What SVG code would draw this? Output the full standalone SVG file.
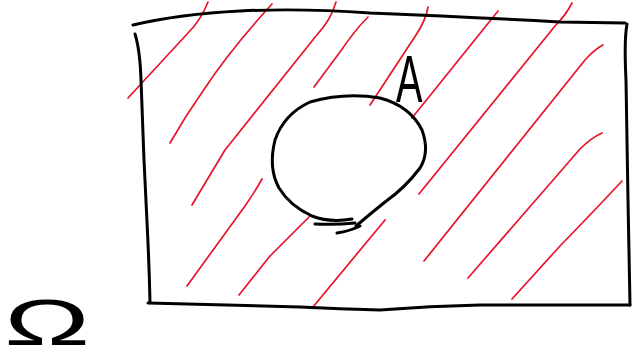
<svg xmlns="http://www.w3.org/2000/svg" width="639" height="360" viewBox="0 0 639 360">
<style>
.ink{fill:none;stroke:#000;stroke-width:3;stroke-linecap:round;stroke-linejoin:round}
.hatch{fill:none;stroke:#e8142a;stroke-width:1.7;stroke-linecap:round;stroke-linejoin:round}
.lbl{font-family:"Liberation Sans","DejaVu Sans",sans-serif;fill:#000}
</style>
<rect width="639" height="360" fill="#fff"/>
<g id="hatching">
<path class="hatch" d="M208,2 Q201,20 188,33 L128,98"/>
<path class="hatch" d="M272,4 Q230,50 205,88 Q186,115 170,143"/>
<path class="hatch" d="M336,2 Q331,20 316,36 L225,150 L192,205"/>
<path class="hatch" d="M368,17 Q355,30 340,52 L314,87"/>
<path class="hatch" d="M428,7 Q426,20 416,35 L370,105"/>
<path class="hatch" d="M498,11 L412,118"/>
<path class="hatch" d="M572,3 Q566,15 555,26 L419,194"/>
<path class="hatch" d="M603,45 Q595,49 585,60 L424,261"/>
<path class="hatch" d="M602,133 Q591,138 580,149 L468,278"/>
<path class="hatch" d="M622,181 Q595,210 560,246 L512,299"/>
<path class="hatch" d="M262,179 Q256,190 245,206 L187,286"/>
<path class="hatch" d="M310,216 Q290,236 270,256 L239,295"/>
<path class="hatch" d="M385,220 L313,307"/>
</g>
<g id="universe">
<path class="ink" d="M133,25 Q180,14 240,11 Q300,8 370,13 Q470,17 560,22 L625,23"/>
<path class="ink" d="M627,24 Q624,40 626,80 L628,200 L630,305"/>
<path class="ink" d="M148,303 Q230,305 300,307 Q340,309 380,310 Q430,306 480,305 L630,305"/>
<path class="ink" d="M135,34 Q140,50 141,80 L144,160 L147,222 Q149,260 150,302"/>
</g>
<g id="setA">
<path class="ink" d="M352,219 Q330,223 312,216 Q290,206 279,188 Q268,168 275,140 Q284,114 310,102 Q345,92 380,98 Q410,106 422,130 Q430,152 420,168 Q405,188 385,202 Q370,214 356,226"/>
<path class="ink" d="M315,224 Q335,225 355,223"/>
<path class="ink" d="M337,233 Q350,231 360,226"/>
<text class="lbl" x="0" y="0" font-size="66" transform="translate(396,102) scale(0.6,1)">A</text>
</g>
<g id="omega">
<text class="lbl" x="0" y="0" font-size="64" transform="translate(4,345) scale(1.8,1)">Ω</text>
</g>
</svg>
